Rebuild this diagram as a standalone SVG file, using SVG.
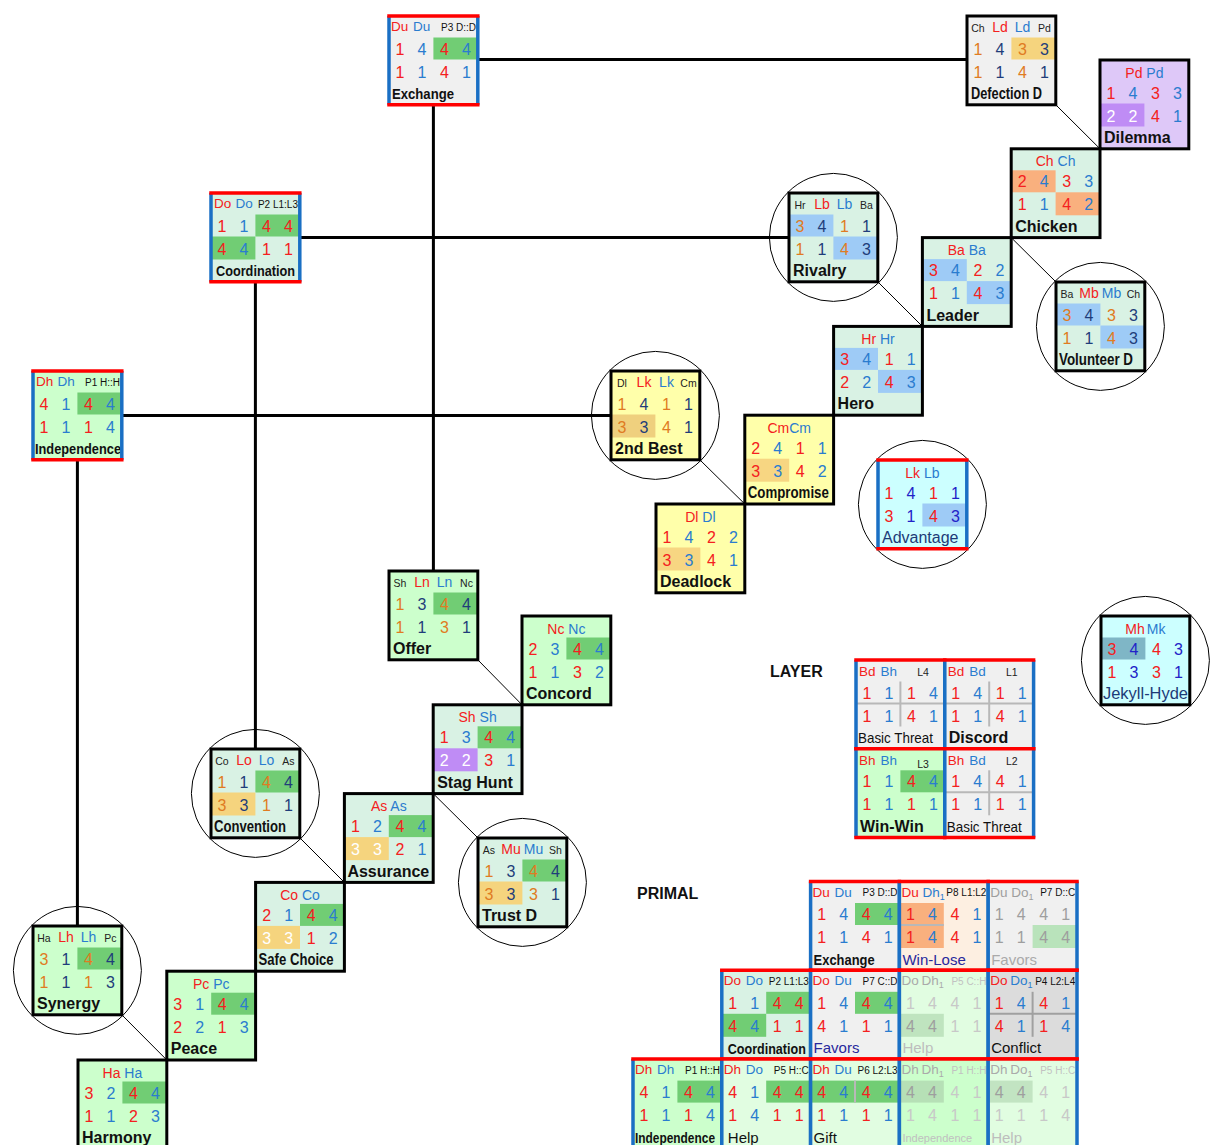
<svg xmlns="http://www.w3.org/2000/svg" width="1210" height="1145" viewBox="0 0 1210 1145">
<defs>
<style>
text{font-family:"Liberation Sans",Arial,Helvetica,sans-serif}
.v{font-size:16px;text-anchor:middle}
.m{text-anchor:middle}
.h{font-size:13.5px}
.hc{font-size:14px;text-anchor:middle}
.f14{font-size:14px}
.s{font-size:10.5px;fill:#222}
.p{font-size:10px;text-anchor:end;fill:#111}
.l{font-size:16px;font-weight:bold;fill:#111}
.lp{font-size:14px;font-weight:bold;fill:#111}
.ln{font-size:15px}
.R{fill:#f42020}.B{fill:#2a7ccf}.O{fill:#e07b22}.N{fill:#1f3d7a}.W{fill:#fff}.G{fill:#9e9e9e}.G2{fill:#c8c8c8}.D{fill:#2222c8}.NV{fill:#1d3b78}.DB{fill:#28289c}
.fr{fill:none;stroke:#000;stroke-width:3}
.bl{stroke:#1a6fc4;stroke-width:3.5}
.rd{stroke:#ff0000;stroke-width:3.5}
.dv{stroke:#b8b8b8;stroke-width:2}
.dvd{stroke:#a0a0a0;stroke-width:2}
.thick{stroke:#000;stroke-width:3;fill:none}
.thin{stroke:#000;stroke-width:1;fill:none}
.ring{fill:none;stroke:#000;stroke-width:1}
.title{font-size:16px;font-weight:bold;fill:#111}
</style>
<rect id="fr" class="fr" width="88.8" height="88.8"/>
<g id="pb"><line class="bl" x1="0" y1="0" x2="0" y2="88.8"/><line class="bl" x1="88.8" y1="0" x2="88.8" y2="88.8"/><line class="rd" x1="-1.75" y1="0" x2="90.55" y2="0"/><line class="rd" x1="-1.75" y1="88.8" x2="90.55" y2="88.8"/></g>
<rect id="bg" width="88.8" height="88.8"/>
<rect id="a1" y="21.5" width="44.4" height="22"/>
<rect id="b1" x="44.4" y="21.5" width="44.4" height="22"/>
<rect id="a2" y="43.5" width="44.4" height="23"/>
<rect id="b2" x="44.4" y="43.5" width="44.4" height="23"/>
<g id="dv"><line class="dv" x1="0" y1="43.5" x2="88.8" y2="43.5"/><line class="dv" x1="44.4" y1="21.5" x2="44.4" y2="66.5"/></g>
</defs>
<rect width="1210" height="1145" fill="#fff"/>

<g id="connectors">
<line class="thick" x1="477.8" y1="59.5" x2="967" y2="59.5"/>
<line class="thick" x1="433.4" y1="104.8" x2="433.4" y2="571"/>
<line class="thick" x1="299.8" y1="237.5" x2="789" y2="237.5"/>
<line class="thick" x1="255.4" y1="281.8" x2="255.4" y2="749"/>
<line class="thick" x1="121.8" y1="415.4" x2="611" y2="415.4"/>
<line class="thick" x1="77.4" y1="459.8" x2="77.4" y2="926"/>
<line class="thin" x1="1055.8" y1="104.8" x2="1100" y2="148.8"/>
<line class="thin" x1="877.8" y1="281.8" x2="922.4" y2="326.4"/>
<line class="thin" x1="1056" y1="282" x2="1011.2" y2="237.6"/>
<line class="thin" x1="699.8" y1="459.8" x2="744.8" y2="504"/>
<line class="thin" x1="477.8" y1="659.8" x2="522" y2="704.8"/>
<line class="thin" x1="478" y1="838" x2="433.2" y2="793.6"/>
<line class="thin" x1="299.8" y1="837.8" x2="344.4" y2="882.4"/>
<line class="thin" x1="121.8" y1="1014.8" x2="166.8" y2="1060"/>
</g>

<g id="n-exchange" transform="translate(389,16)">
<use href="#bg" fill="#f0f0f0"/><use href="#b1" fill="#71cd74"/>
<text class="h" y="15"><tspan x="2" class="R">Du</tspan><tspan x="24" class="B">Du</tspan></text>
<text class="p" x="87" y="14.5">P3 D::D</text>
<text class="v" y="38.5"><tspan x="11" class="R">1</tspan><tspan x="33" class="B">4</tspan><tspan x="55.5" class="R">4</tspan><tspan x="77.5" class="B">4</tspan></text>
<text class="v" y="61.5"><tspan x="11" class="R">1</tspan><tspan x="33" class="B">1</tspan><tspan x="55.5" class="R">4</tspan><tspan x="77.5" class="B">1</tspan></text>
<text class="lp" x="3" y="83" textLength="62" lengthAdjust="spacingAndGlyphs">Exchange</text>
<use href="#pb"/>
</g>

<g id="n-defection-d" transform="translate(967,16)">
<use href="#bg" fill="#f0f0f0"/><use href="#b1" fill="#f5d47e"/>
<text class="m" y="15.5"><tspan x="11" class="s">Ch</tspan><tspan x="33" class="f14 R">Ld</tspan><tspan x="55.5" class="f14 B">Ld</tspan><tspan x="77.5" class="s">Pd</tspan></text>
<text class="v" y="38.5"><tspan x="11" class="O">1</tspan><tspan x="33" class="N">4</tspan><tspan x="55.5" class="O">3</tspan><tspan x="77.5" class="N">3</tspan></text>
<text class="v" y="61.5"><tspan x="11" class="O">1</tspan><tspan x="33" class="N">1</tspan><tspan x="55.5" class="O">4</tspan><tspan x="77.5" class="N">1</tspan></text>
<text class="l" x="4" y="83" textLength="71" lengthAdjust="spacingAndGlyphs">Defection D</text>
<use href="#fr"/>
</g>

<g id="n-dilemma" transform="translate(1100,60)">
<use href="#bg" fill="#dec8f8"/><use href="#a2" fill="#bf8cf5"/>
<text class="hc" x="44.4" y="17.5"><tspan class="R">Pd</tspan> <tspan class="B">Pd</tspan></text>
<text class="v" y="38.5"><tspan x="11" class="R">1</tspan><tspan x="33" class="B">4</tspan><tspan x="55.5" class="R">3</tspan><tspan x="77.5" class="B">3</tspan></text>
<text class="v" y="61.5"><tspan x="11" class="W">2</tspan><tspan x="33" class="W">2</tspan><tspan x="55.5" class="R">4</tspan><tspan x="77.5" class="B">1</tspan></text>
<text class="l" x="4" y="83">Dilemma</text>
<use href="#fr"/>
</g>

<g id="n-chicken" transform="translate(1011.2,148.8)">
<use href="#bg" fill="#d9f2e4"/><use href="#a1" fill="#f9b07e"/><use href="#b2" fill="#f9b07e"/>
<text class="hc" x="44.4" y="17.5"><tspan class="R">Ch</tspan> <tspan class="B">Ch</tspan></text>
<text class="v" y="38.5"><tspan x="11" class="R">2</tspan><tspan x="33" class="B">4</tspan><tspan x="55.5" class="R">3</tspan><tspan x="77.5" class="B">3</tspan></text>
<text class="v" y="61.5"><tspan x="11" class="R">1</tspan><tspan x="33" class="B">1</tspan><tspan x="55.5" class="R">4</tspan><tspan x="77.5" class="B">2</tspan></text>
<text class="l" x="4" y="83">Chicken</text>
<use href="#fr"/>
</g>

<g id="n-leader" transform="translate(922.4,237.6)">
<use href="#bg" fill="#d9f2e4"/><use href="#a1" fill="#9ecbf6"/><use href="#b2" fill="#9ecbf6"/>
<text class="hc" x="44.4" y="17.5"><tspan class="R">Ba</tspan> <tspan class="B">Ba</tspan></text>
<text class="v" y="38.5"><tspan x="11" class="R">3</tspan><tspan x="33" class="B">4</tspan><tspan x="55.5" class="R">2</tspan><tspan x="77.5" class="B">2</tspan></text>
<text class="v" y="61.5"><tspan x="11" class="R">1</tspan><tspan x="33" class="B">1</tspan><tspan x="55.5" class="R">4</tspan><tspan x="77.5" class="B">3</tspan></text>
<text class="l" x="4" y="83">Leader</text>
<use href="#fr"/>
</g>

<g id="n-hero" transform="translate(833.6,326.4)">
<use href="#bg" fill="#d9f2e4"/><use href="#a1" fill="#9ecbf6"/><use href="#b2" fill="#9ecbf6"/>
<text class="hc" x="44.4" y="17.5"><tspan class="R">Hr</tspan> <tspan class="B">Hr</tspan></text>
<text class="v" y="38.5"><tspan x="11" class="R">3</tspan><tspan x="33" class="B">4</tspan><tspan x="55.5" class="R">1</tspan><tspan x="77.5" class="B">1</tspan></text>
<text class="v" y="61.5"><tspan x="11" class="R">2</tspan><tspan x="33" class="B">2</tspan><tspan x="55.5" class="R">4</tspan><tspan x="77.5" class="B">3</tspan></text>
<text class="l" x="4" y="83">Hero</text>
<use href="#fr"/>
</g>

<g id="n-compromise" transform="translate(744.8,415.2)">
<use href="#bg" fill="#ffffaa"/><use href="#a2" fill="#f7d682"/>
<text class="hc" x="44.4" y="17.5"><tspan class="R">Cm</tspan><tspan class="B">Cm</tspan></text>
<text class="v" y="38.5"><tspan x="11" class="R">2</tspan><tspan x="33" class="B">4</tspan><tspan x="55.5" class="R">1</tspan><tspan x="77.5" class="B">1</tspan></text>
<text class="v" y="61.5"><tspan x="11" class="R">3</tspan><tspan x="33" class="B">3</tspan><tspan x="55.5" class="R">4</tspan><tspan x="77.5" class="B">2</tspan></text>
<text class="l" x="3" y="83" textLength="81" lengthAdjust="spacingAndGlyphs">Compromise</text>
<use href="#fr"/>
</g>

<g id="n-deadlock" transform="translate(656,504)">
<use href="#bg" fill="#ffffaa"/><use href="#a2" fill="#f7d682"/>
<text class="hc" x="44.4" y="17.5"><tspan class="R">Dl</tspan> <tspan class="B">Dl</tspan></text>
<text class="v" y="38.5"><tspan x="11" class="R">1</tspan><tspan x="33" class="B">4</tspan><tspan x="55.5" class="R">2</tspan><tspan x="77.5" class="B">2</tspan></text>
<text class="v" y="61.5"><tspan x="11" class="R">3</tspan><tspan x="33" class="B">3</tspan><tspan x="55.5" class="R">4</tspan><tspan x="77.5" class="B">1</tspan></text>
<text class="l" x="4" y="83">Deadlock</text>
<use href="#fr"/>
</g>

<g id="n-2nd-best" transform="translate(611,371)">
<circle class="ring" cx="44.4" cy="44.4" r="64"/>
<use href="#bg" fill="#ffffaa"/><use href="#a2" fill="#efd07e"/>
<text class="m" y="15.5"><tspan x="11" class="s">Dl</tspan><tspan x="33" class="f14 R">Lk</tspan><tspan x="55.5" class="f14 B">Lk</tspan><tspan x="77.5" class="s">Cm</tspan></text>
<text class="v" y="38.5"><tspan x="11" class="O">1</tspan><tspan x="33" class="N">4</tspan><tspan x="55.5" class="O">1</tspan><tspan x="77.5" class="N">1</tspan></text>
<text class="v" y="61.5"><tspan x="11" class="O">3</tspan><tspan x="33" class="N">3</tspan><tspan x="55.5" class="O">4</tspan><tspan x="77.5" class="N">1</tspan></text>
<text class="l" x="4" y="83">2nd Best</text>
<use href="#fr"/>
</g>

<g id="n-advantage" transform="translate(878,460)">
<circle class="ring" cx="44.4" cy="44.4" r="64"/>
<use href="#bg" fill="#ccffff"/><use href="#b2" fill="#9ecbf6"/>
<text class="hc" x="44.4" y="17.5"><tspan class="R">Lk</tspan> <tspan class="B">Lb</tspan></text>
<text class="v" y="38.5"><tspan x="11" class="R">1</tspan><tspan x="33" class="D">4</tspan><tspan x="55.5" class="R">1</tspan><tspan x="77.5" class="D">1</tspan></text>
<text class="v" y="61.5"><tspan x="11" class="R">3</tspan><tspan x="33" class="D">1</tspan><tspan x="55.5" class="R">4</tspan><tspan x="77.5" class="D">3</tspan></text>
<text class="NV" font-size="16" x="4" y="83">Advantage</text>
<use href="#pb"/>
</g>

<g id="n-rivalry" transform="translate(789,193)">
<circle class="ring" cx="44.4" cy="44.4" r="64"/>
<use href="#bg" fill="#d9f2e4"/><use href="#a1" fill="#9ecbf6"/><use href="#b2" fill="#9ecbf6"/>
<text class="m" y="15.5"><tspan x="11" class="s">Hr</tspan><tspan x="33" class="f14 R">Lb</tspan><tspan x="55.5" class="f14 B">Lb</tspan><tspan x="77.5" class="s">Ba</tspan></text>
<text class="v" y="38.5"><tspan x="11" class="O">3</tspan><tspan x="33" class="N">4</tspan><tspan x="55.5" class="O">1</tspan><tspan x="77.5" class="N">1</tspan></text>
<text class="v" y="61.5"><tspan x="11" class="O">1</tspan><tspan x="33" class="N">1</tspan><tspan x="55.5" class="O">4</tspan><tspan x="77.5" class="N">3</tspan></text>
<text class="l" x="4" y="83">Rivalry</text>
<use href="#fr"/>
</g>

<g id="n-volunteer-d" transform="translate(1056,282)">
<circle class="ring" cx="44.4" cy="44.4" r="64"/>
<use href="#bg" fill="#d9f2e4"/><use href="#a1" fill="#9ecbf6"/><use href="#b2" fill="#9ecbf6"/>
<text class="m" y="15.5"><tspan x="11" class="s">Ba</tspan><tspan x="33" class="f14 R">Mb</tspan><tspan x="55.5" class="f14 B">Mb</tspan><tspan x="77.5" class="s">Ch</tspan></text>
<text class="v" y="38.5"><tspan x="11" class="O">3</tspan><tspan x="33" class="N">4</tspan><tspan x="55.5" class="O">3</tspan><tspan x="77.5" class="N">3</tspan></text>
<text class="v" y="61.5"><tspan x="11" class="O">1</tspan><tspan x="33" class="N">1</tspan><tspan x="55.5" class="O">4</tspan><tspan x="77.5" class="N">3</tspan></text>
<text class="l" x="3" y="83" textLength="74" lengthAdjust="spacingAndGlyphs">Volunteer D</text>
<use href="#fr"/>
</g>

<g id="n-jekyll-hyde" transform="translate(1101,616)">
<circle class="ring" cx="44.4" cy="44.4" r="64"/>
<use href="#bg" fill="#ccffff"/><use href="#a1" fill="#7fb6c6"/>
<text class="hc" x="44.4" y="17.5"><tspan class="R">Mh</tspan><tspan class="B" dx="2">Mk</tspan></text>
<text class="v" y="38.5"><tspan x="11" class="R">3</tspan><tspan x="33" class="D">4</tspan><tspan x="55.5" class="R">4</tspan><tspan x="77.5" class="D">3</tspan></text>
<text class="v" y="61.5"><tspan x="11" class="R">1</tspan><tspan x="33" class="D">3</tspan><tspan x="55.5" class="R">3</tspan><tspan x="77.5" class="D">1</tspan></text>
<text class="NV" font-size="16" x="2" y="83" textLength="85" lengthAdjust="spacingAndGlyphs">Jekyll-Hyde</text>
<use href="#fr"/>
</g>

<g id="n-coordination" transform="translate(211,193)">
<use href="#bg" fill="#d9f2e4"/><use href="#b1" fill="#71cd74"/><use href="#a2" fill="#71cd74"/>
<text class="h" y="15"><tspan x="3" class="R">Do</tspan><tspan x="24.5" class="B">Do</tspan></text>
<text class="p" x="87" y="14.5">P2 L1:L3</text>
<text class="v" y="38.5"><tspan x="11" class="R">1</tspan><tspan x="33" class="B">1</tspan><tspan x="55.5" class="R">4</tspan><tspan x="77.5" class="R">4</tspan></text>
<text class="v" y="61.5"><tspan x="11" class="R">4</tspan><tspan x="33" class="B">4</tspan><tspan x="55.5" class="R">1</tspan><tspan x="77.5" class="R">1</tspan></text>
<text class="lp" x="5" y="83" textLength="79" lengthAdjust="spacingAndGlyphs">Coordination</text>
<use href="#pb"/>
</g>

<g id="n-independence" transform="translate(33,371)">
<use href="#bg" fill="#ccffcc"/><use href="#b1" fill="#71cd74"/>
<text class="h" y="15"><tspan x="3" class="R">Dh</tspan><tspan x="24.5" class="B">Dh</tspan></text>
<text class="p" x="87" y="14.5">P1 H::H</text>
<text class="v" y="38.5"><tspan x="11" class="R">4</tspan><tspan x="33" class="B">1</tspan><tspan x="55.5" class="R">4</tspan><tspan x="77.5" class="B">4</tspan></text>
<text class="v" y="61.5"><tspan x="11" class="R">1</tspan><tspan x="33" class="B">1</tspan><tspan x="55.5" class="R">1</tspan><tspan x="77.5" class="B">4</tspan></text>
<text class="lp" x="2" y="83" textLength="86" lengthAdjust="spacingAndGlyphs">Independence</text>
<use href="#pb"/>
</g>

<g id="n-offer" transform="translate(389,571)">
<use href="#bg" fill="#ccffcc"/><use href="#b1" fill="#71cd74"/>
<text class="m" y="15.5"><tspan x="11" class="s">Sh</tspan><tspan x="33" class="f14 R">Ln</tspan><tspan x="55.5" class="f14 B">Ln</tspan><tspan x="77.5" class="s">Nc</tspan></text>
<text class="v" y="38.5"><tspan x="11" class="O">1</tspan><tspan x="33" class="N">3</tspan><tspan x="55.5" class="O">4</tspan><tspan x="77.5" class="N">4</tspan></text>
<text class="v" y="61.5"><tspan x="11" class="O">1</tspan><tspan x="33" class="N">1</tspan><tspan x="55.5" class="O">3</tspan><tspan x="77.5" class="N">1</tspan></text>
<text class="l" x="4" y="83">Offer</text>
<use href="#fr"/>
</g>

<g id="n-concord" transform="translate(522,616)">
<use href="#bg" fill="#ccffcc"/><use href="#b1" fill="#71cd74"/>
<text class="hc" x="44.4" y="17.5"><tspan class="R">Nc</tspan> <tspan class="B">Nc</tspan></text>
<text class="v" y="38.5"><tspan x="11" class="R">2</tspan><tspan x="33" class="B">3</tspan><tspan x="55.5" class="R">4</tspan><tspan x="77.5" class="B">4</tspan></text>
<text class="v" y="61.5"><tspan x="11" class="R">1</tspan><tspan x="33" class="B">1</tspan><tspan x="55.5" class="R">3</tspan><tspan x="77.5" class="B">2</tspan></text>
<text class="l" x="4" y="83">Concord</text>
<use href="#fr"/>
</g>

<g id="n-stag-hunt" transform="translate(433.2,704.8)">
<use href="#bg" fill="#d9f2e4"/><use href="#b1" fill="#71cd74"/><use href="#a2" fill="#bf8cf5"/>
<text class="hc" x="44.4" y="17.5"><tspan class="R">Sh</tspan> <tspan class="B">Sh</tspan></text>
<text class="v" y="38.5"><tspan x="11" class="R">1</tspan><tspan x="33" class="B">3</tspan><tspan x="55.5" class="R">4</tspan><tspan x="77.5" class="B">4</tspan></text>
<text class="v" y="61.5"><tspan x="11" class="W">2</tspan><tspan x="33" class="W">2</tspan><tspan x="55.5" class="R">3</tspan><tspan x="77.5" class="B">1</tspan></text>
<text class="l" x="4" y="83">Stag Hunt</text>
<use href="#fr"/>
</g>

<g id="n-assurance" transform="translate(344.4,793.6)">
<use href="#bg" fill="#d9f2e4"/><use href="#b1" fill="#71cd74"/><use href="#a2" fill="#f5d47e"/>
<text class="hc" x="44.4" y="17.5"><tspan class="R">As</tspan> <tspan class="B">As</tspan></text>
<text class="v" y="38.5"><tspan x="11" class="R">1</tspan><tspan x="33" class="B">2</tspan><tspan x="55.5" class="R">4</tspan><tspan x="77.5" class="B">4</tspan></text>
<text class="v" y="61.5"><tspan x="11" class="W">3</tspan><tspan x="33" class="W">3</tspan><tspan x="55.5" class="R">2</tspan><tspan x="77.5" class="B">1</tspan></text>
<text class="l" x="3" y="83">Assurance</text>
<use href="#fr"/>
</g>

<g id="n-convention" transform="translate(211,749)">
<circle class="ring" cx="44.4" cy="44.4" r="64"/>
<use href="#bg" fill="#d9f2e4"/><use href="#b1" fill="#71cd74"/><use href="#a2" fill="#f5d47e"/>
<text class="m" y="15.5"><tspan x="11" class="s">Co</tspan><tspan x="33" class="f14 R">Lo</tspan><tspan x="55.5" class="f14 B">Lo</tspan><tspan x="77.5" class="s">As</tspan></text>
<text class="v" y="38.5"><tspan x="11" class="O">1</tspan><tspan x="33" class="N">1</tspan><tspan x="55.5" class="O">4</tspan><tspan x="77.5" class="N">4</tspan></text>
<text class="v" y="61.5"><tspan x="11" class="O">3</tspan><tspan x="33" class="N">3</tspan><tspan x="55.5" class="O">1</tspan><tspan x="77.5" class="N">1</tspan></text>
<text class="l" x="3" y="83" textLength="72" lengthAdjust="spacingAndGlyphs">Convention</text>
<use href="#fr"/>
</g>

<g id="n-trust-d" transform="translate(478,838)">
<circle class="ring" cx="44.4" cy="44.4" r="64"/>
<use href="#bg" fill="#d9f2e4"/><use href="#b1" fill="#71cd74"/><use href="#a2" fill="#f5d47e"/>
<text class="m" y="15.5"><tspan x="11" class="s">As</tspan><tspan x="33" class="f14 R">Mu</tspan><tspan x="55.5" class="f14 B">Mu</tspan><tspan x="77.5" class="s">Sh</tspan></text>
<text class="v" y="38.5"><tspan x="11" class="O">1</tspan><tspan x="33" class="N">3</tspan><tspan x="55.5" class="O">4</tspan><tspan x="77.5" class="N">4</tspan></text>
<text class="v" y="61.5"><tspan x="11" class="O">3</tspan><tspan x="33" class="N">3</tspan><tspan x="55.5" class="O">3</tspan><tspan x="77.5" class="N">1</tspan></text>
<text class="l" x="4" y="83">Trust D</text>
<use href="#fr"/>
</g>

<g id="n-safe-choice" transform="translate(255.6,882.4)">
<use href="#bg" fill="#d9f2e4"/><use href="#b1" fill="#71cd74"/><use href="#a2" fill="#f5d47e"/>
<text class="hc" x="44.4" y="17.5"><tspan class="R">Co</tspan> <tspan class="B">Co</tspan></text>
<text class="v" y="38.5"><tspan x="11" class="R">2</tspan><tspan x="33" class="B">1</tspan><tspan x="55.5" class="R">4</tspan><tspan x="77.5" class="B">4</tspan></text>
<text class="v" y="61.5"><tspan x="11" class="W">3</tspan><tspan x="33" class="W">3</tspan><tspan x="55.5" class="R">1</tspan><tspan x="77.5" class="B">2</tspan></text>
<text class="l" x="3" y="83" textLength="75" lengthAdjust="spacingAndGlyphs">Safe Choice</text>
<use href="#fr"/>
</g>

<g id="n-synergy" transform="translate(33,926)">
<circle class="ring" cx="44.4" cy="44.4" r="64"/>
<use href="#bg" fill="#ccffcc"/><use href="#b1" fill="#71cd74"/>
<text class="m" y="15.5"><tspan x="11" class="s">Ha</tspan><tspan x="33" class="f14 R">Lh</tspan><tspan x="55.5" class="f14 B">Lh</tspan><tspan x="77.5" class="s">Pc</tspan></text>
<text class="v" y="38.5"><tspan x="11" class="O">3</tspan><tspan x="33" class="N">1</tspan><tspan x="55.5" class="O">4</tspan><tspan x="77.5" class="N">4</tspan></text>
<text class="v" y="61.5"><tspan x="11" class="O">1</tspan><tspan x="33" class="N">1</tspan><tspan x="55.5" class="O">1</tspan><tspan x="77.5" class="N">3</tspan></text>
<text class="l" x="4" y="83">Synergy</text>
<use href="#fr"/>
</g>

<g id="n-peace" transform="translate(166.8,971.2)">
<use href="#bg" fill="#ccffcc"/><use href="#b1" fill="#71cd74"/>
<text class="hc" x="44.4" y="17.5"><tspan class="R">Pc</tspan> <tspan class="B">Pc</tspan></text>
<text class="v" y="38.5"><tspan x="11" class="R">3</tspan><tspan x="33" class="B">1</tspan><tspan x="55.5" class="R">4</tspan><tspan x="77.5" class="B">4</tspan></text>
<text class="v" y="61.5"><tspan x="11" class="R">2</tspan><tspan x="33" class="B">2</tspan><tspan x="55.5" class="R">1</tspan><tspan x="77.5" class="B">3</tspan></text>
<text class="l" x="4" y="83">Peace</text>
<use href="#fr"/>
</g>

<g id="n-harmony" transform="translate(78,1060)">
<use href="#bg" fill="#ccffcc"/><use href="#b1" fill="#71cd74"/>
<text class="hc" x="44.4" y="17.5"><tspan class="R">Ha</tspan> <tspan class="B">Ha</tspan></text>
<text class="v" y="38.5"><tspan x="11" class="R">3</tspan><tspan x="33" class="B">2</tspan><tspan x="55.5" class="R">4</tspan><tspan x="77.5" class="B">4</tspan></text>
<text class="v" y="61.5"><tspan x="11" class="R">1</tspan><tspan x="33" class="B">1</tspan><tspan x="55.5" class="R">2</tspan><tspan x="77.5" class="B">3</tspan></text>
<text class="l" x="4" y="83">Harmony</text>
<use href="#fr"/>
</g>

<text class="title" x="770" y="677">LAYER</text>

<g id="n-layer-basic-threat-l4" transform="translate(856,660)">
<use href="#bg" fill="#f0f0f0"/><use href="#dv"/>
<text class="h" y="16"><tspan x="3" class="R">Bd</tspan><tspan x="24.5" class="B">Bh</tspan></text>
<text class="s m" x="67" y="16">L4</text>
<text class="v" y="38.5"><tspan x="11" class="R">1</tspan><tspan x="33" class="B">1</tspan><tspan x="55.5" class="R">1</tspan><tspan x="77.5" class="B">4</tspan></text>
<text class="v" y="61.5"><tspan x="11" class="R">1</tspan><tspan x="33" class="B">1</tspan><tspan x="55.5" class="R">4</tspan><tspan x="77.5" class="B">1</tspan></text>
<text class="ln" fill="#111" x="2" y="83" textLength="75" lengthAdjust="spacingAndGlyphs">Basic Threat</text>
<use href="#pb"/>
</g>

<g id="n-layer-discord" transform="translate(944.8,660)">
<use href="#bg" fill="#f0f0f0"/><use href="#dv"/>
<text class="h" y="16"><tspan x="3" class="R">Bd</tspan><tspan x="24.5" class="B">Bd</tspan></text>
<text class="s m" x="67" y="16">L1</text>
<text class="v" y="38.5"><tspan x="11" class="R">1</tspan><tspan x="33" class="B">4</tspan><tspan x="55.5" class="R">1</tspan><tspan x="77.5" class="B">1</tspan></text>
<text class="v" y="61.5"><tspan x="11" class="R">1</tspan><tspan x="33" class="B">1</tspan><tspan x="55.5" class="R">4</tspan><tspan x="77.5" class="B">1</tspan></text>
<text class="l" x="4" y="83">Discord</text>
<use href="#pb"/>
</g>

<g id="n-layer-win-win" transform="translate(856,748.8)">
<use href="#bg" fill="#ccffcc"/><use href="#b1" fill="#71cd74"/>
<text class="h" y="16"><tspan x="3" class="R">Bh</tspan><tspan x="24.5" class="B">Bh</tspan></text>
<text class="s m" x="67" y="19">L3</text>
<text class="v" y="38.5"><tspan x="11" class="R">1</tspan><tspan x="33" class="B">1</tspan><tspan x="55.5" class="R">4</tspan><tspan x="77.5" class="B">4</tspan></text>
<text class="v" y="61.5"><tspan x="11" class="R">1</tspan><tspan x="33" class="B">1</tspan><tspan x="55.5" class="R">1</tspan><tspan x="77.5" class="B">1</tspan></text>
<text class="l" x="4" y="83">Win-Win</text>
<use href="#pb"/>
</g>

<g id="n-layer-basic-threat-l2" transform="translate(944.8,748.8)">
<use href="#bg" fill="#f0f0f0"/><use href="#dv"/>
<text class="h" y="16"><tspan x="3" class="R">Bh</tspan><tspan x="24.5" class="B">Bd</tspan></text>
<text class="s m" x="67" y="16">L2</text>
<text class="v" y="38.5"><tspan x="11" class="R">1</tspan><tspan x="33" class="B">4</tspan><tspan x="55.5" class="R">4</tspan><tspan x="77.5" class="B">1</tspan></text>
<text class="v" y="61.5"><tspan x="11" class="R">1</tspan><tspan x="33" class="B">1</tspan><tspan x="55.5" class="R">1</tspan><tspan x="77.5" class="B">1</tspan></text>
<text class="ln" fill="#111" x="2" y="83" textLength="75" lengthAdjust="spacingAndGlyphs">Basic Threat</text>
<use href="#pb"/>
</g>

<text class="title" x="637" y="899">PRIMAL</text>

<g id="n-primal-exchange" transform="translate(810.6,881.5)">
<use href="#bg" fill="#f0f0f0"/><use href="#b1" fill="#71cd74"/>
<text class="h" y="15"><tspan x="2" class="R">Du</tspan><tspan x="24" class="B">Du</tspan></text>
<text class="p" x="87" y="14.5">P3 D::D</text>
<text class="v" y="38.5"><tspan x="11" class="R">1</tspan><tspan x="33" class="B">4</tspan><tspan x="55.5" class="R">4</tspan><tspan x="77.5" class="B">4</tspan></text>
<text class="v" y="61.5"><tspan x="11" class="R">1</tspan><tspan x="33" class="B">1</tspan><tspan x="55.5" class="R">4</tspan><tspan x="77.5" class="B">1</tspan></text>
<text class="lp" x="3" y="83" textLength="61" lengthAdjust="spacingAndGlyphs">Exchange</text>
<use href="#pb"/>
</g>

<g id="n-primal-win-lose" transform="translate(899.4,881.5)">
<use href="#bg" fill="#fdefe1"/><use href="#a1" fill="#f9b07e"/><use href="#a2" fill="#f9b07e"/>
<line class="dv" x1="0" y1="43.5" x2="44.4" y2="43.5"/>
<text class="h" y="15"><tspan x="2" class="R">Du</tspan><tspan x="23" class="B">Dh<tspan font-size="9" dy="3">1</tspan></tspan></text>
<text class="p" x="87" y="14.5">P8 L1:L2</text>
<text class="v" y="38.5"><tspan x="11" class="R">1</tspan><tspan x="33" class="B">4</tspan><tspan x="55.5" class="R">4</tspan><tspan x="77.5" class="B">1</tspan></text>
<text class="v" y="61.5"><tspan x="11" class="R">1</tspan><tspan x="33" class="B">4</tspan><tspan x="55.5" class="R">4</tspan><tspan x="77.5" class="B">1</tspan></text>
<text class="ln DB" x="3" y="83">Win-Lose</text>
<use href="#pb"/>
</g>

<g id="n-primal-favors-grey" transform="translate(988.2,881.5)">
<use href="#bg" fill="#f0f0f0"/><use href="#b2" fill="#b9e3bb"/>
<text class="h G" y="15"><tspan x="2">Du</tspan><tspan x="23">Do<tspan font-size="9" dy="3">1</tspan></tspan></text>
<text class="p" x="87" y="14.5">P7 D::C</text>
<text class="v G" y="38.5"><tspan x="11">1</tspan><tspan x="33">4</tspan><tspan x="55.5">4</tspan><tspan x="77.5">1</tspan></text>
<text class="v G" y="61.5"><tspan x="11">1</tspan><tspan x="33">1</tspan><tspan x="55.5">4</tspan><tspan x="77.5">4</tspan></text>
<text class="ln" fill="#aaa" x="3" y="83">Favors</text>
<use href="#pb"/>
</g>

<g id="n-primal-coordination" transform="translate(721.8,970.3)">
<use href="#bg" fill="#d9f2e4"/><use href="#b1" fill="#71cd74"/><use href="#a2" fill="#71cd74"/>
<text class="h" y="15"><tspan x="2" class="R">Do</tspan><tspan x="24" class="B">Do</tspan></text>
<text class="p" x="87" y="14.5">P2 L1:L3</text>
<text class="v" y="38.5"><tspan x="11" class="R">1</tspan><tspan x="33" class="B">1</tspan><tspan x="55.5" class="R">4</tspan><tspan x="77.5" class="R">4</tspan></text>
<text class="v" y="61.5"><tspan x="11" class="R">4</tspan><tspan x="33" class="B">4</tspan><tspan x="55.5" class="R">1</tspan><tspan x="77.5" class="R">1</tspan></text>
<text class="lp" x="6" y="84" textLength="78" lengthAdjust="spacingAndGlyphs">Coordination</text>
<use href="#pb"/>
</g>

<g id="n-primal-favors" transform="translate(810.6,970.3)">
<use href="#bg" fill="#f0f0f0"/><use href="#b1" fill="#71cd74"/>
<text class="h" y="15"><tspan x="2" class="R">Do</tspan><tspan x="24" class="B">Du</tspan></text>
<text class="p" x="87" y="14.5">P7 C::D</text>
<text class="v" y="38.5"><tspan x="11" class="R">1</tspan><tspan x="33" class="B">4</tspan><tspan x="55.5" class="R">4</tspan><tspan x="77.5" class="B">4</tspan></text>
<text class="v" y="61.5"><tspan x="11" class="R">4</tspan><tspan x="33" class="B">1</tspan><tspan x="55.5" class="R">1</tspan><tspan x="77.5" class="B">1</tspan></text>
<text class="ln DB" x="3" y="83">Favors</text>
<use href="#pb"/>
</g>

<g id="n-primal-help-grey" transform="translate(899.4,970.3)">
<use href="#bg" fill="#e1fde1"/><use href="#a2" fill="#bfe4bf"/>
<text class="h" fill="#aaa" y="15"><tspan x="2">Do</tspan><tspan x="22">Dh<tspan font-size="9" dy="3">1</tspan></tspan></text>
<text class="p" style="fill:#c2c2c2" x="87" y="14.5">P5 C::H</text>
<text class="v G2" y="38.5"><tspan x="11">1</tspan><tspan x="33">4</tspan><tspan x="55.5">4</tspan><tspan x="77.5">1</tspan></text>
<text class="v G2" y="61.5"><tspan x="11" class="G">4</tspan><tspan x="33" class="G">4</tspan><tspan x="55.5">1</tspan><tspan x="77.5">1</tspan></text>
<text class="ln" fill="#bdbdbd" x="3" y="83">Help</text>
<use href="#pb"/>
</g>

<g id="n-primal-conflict" transform="translate(988.2,970.3)">
<use href="#bg" fill="#dcdcdc"/>
<line class="dvd" x1="0" y1="43.5" x2="88.8" y2="43.5"/><line class="dvd" x1="44.4" y1="21.5" x2="44.4" y2="66.5"/>
<text class="h" y="15"><tspan x="2" class="R">Do</tspan><tspan x="22" class="B">Do<tspan font-size="9" dy="3">1</tspan></tspan></text>
<text class="p" x="87" y="14.5">P4 L2:L4</text>
<text class="v" y="38.5"><tspan x="11" class="R">1</tspan><tspan x="33" class="B">4</tspan><tspan x="55.5" class="R">4</tspan><tspan x="77.5" class="B">1</tspan></text>
<text class="v" y="61.5"><tspan x="11" class="R">4</tspan><tspan x="33" class="B">1</tspan><tspan x="55.5" class="R">1</tspan><tspan x="77.5" class="B">4</tspan></text>
<text class="ln" fill="#111" x="3" y="83">Conflict</text>
<use href="#pb"/>
</g>

<g id="n-primal-independence" transform="translate(633,1059.1)">
<use href="#bg" fill="#ccffcc"/><use href="#b1" fill="#71cd74"/>
<text class="h" y="15"><tspan x="2" class="R">Dh</tspan><tspan x="24" class="B">Dh</tspan></text>
<text class="p" x="87" y="14.5">P1 H::H</text>
<text class="v" y="38.5"><tspan x="11" class="R">4</tspan><tspan x="33" class="B">1</tspan><tspan x="55.5" class="R">4</tspan><tspan x="77.5" class="B">4</tspan></text>
<text class="v" y="61.5"><tspan x="11" class="R">1</tspan><tspan x="33" class="B">1</tspan><tspan x="55.5" class="R">1</tspan><tspan x="77.5" class="B">4</tspan></text>
<text class="lp" x="2" y="84" textLength="80" lengthAdjust="spacingAndGlyphs">Independence</text>
<use href="#pb"/>
</g>

<g id="n-primal-help" transform="translate(721.8,1059.1)">
<use href="#bg" fill="#e1fde1"/><use href="#b1" fill="#71cd74"/>
<text class="h" y="15"><tspan x="2" class="R">Dh</tspan><tspan x="24" class="B">Do</tspan></text>
<text class="p" x="87" y="14.5">P5 H::C</text>
<text class="v" y="38.5"><tspan x="11" class="R">4</tspan><tspan x="33" class="B">1</tspan><tspan x="55.5" class="R">4</tspan><tspan x="77.5" class="R">4</tspan></text>
<text class="v" y="61.5"><tspan x="11" class="R">1</tspan><tspan x="33" class="B">4</tspan><tspan x="55.5" class="R">1</tspan><tspan x="77.5" class="R">1</tspan></text>
<text class="ln" fill="#111" x="6" y="84">Help</text>
<use href="#pb"/>
</g>

<g id="n-primal-gift" transform="translate(810.6,1059.1)">
<use href="#bg" fill="#e1fde1"/><use href="#a1" fill="#71cd74"/><use href="#b1" fill="#71cd74"/>
<line class="dv" x1="44.4" y1="21.5" x2="44.4" y2="43.5"/>
<text class="h" y="15"><tspan x="2" class="R">Dh</tspan><tspan x="24" class="B">Du</tspan></text>
<text class="p" x="87" y="14.5">P6 L2:L3</text>
<text class="v" y="38.5"><tspan x="11" class="R">4</tspan><tspan x="33" class="B">4</tspan><tspan x="55.5" class="R">4</tspan><tspan x="77.5" class="B">4</tspan></text>
<text class="v" y="61.5"><tspan x="11" class="R">1</tspan><tspan x="33" class="B">1</tspan><tspan x="55.5" class="R">1</tspan><tspan x="77.5" class="B">1</tspan></text>
<text class="ln" fill="#111" x="3" y="84">Gift</text>
<use href="#pb"/>
</g>

<g id="n-primal-independence-grey" transform="translate(899.4,1059.1)">
<use href="#bg" fill="#ccffcc"/><use href="#a1" fill="#b6e0b6"/>
<text class="h" fill="#aaa" y="15"><tspan x="2">Dh</tspan><tspan x="22">Dh<tspan font-size="9" dy="3">1</tspan></tspan></text>
<text class="p" style="fill:#c2c2c2" x="87" y="14.5">P1 H::H</text>
<text class="v G2" y="38.5"><tspan x="11" class="G">4</tspan><tspan x="33" class="G">4</tspan><tspan x="55.5">4</tspan><tspan x="77.5">1</tspan></text>
<text class="v G2" y="61.5"><tspan x="11">1</tspan><tspan x="33">4</tspan><tspan x="55.5">1</tspan><tspan x="77.5">1</tspan></text>
<text fill="#c0c0c0" font-size="11" x="3" y="83">Independence</text>
<use href="#pb"/>
</g>

<g id="n-primal-help-grey-2" transform="translate(988.2,1059.1)">
<use href="#bg" fill="#e1fde1"/><use href="#a1" fill="#c2e4c2"/>
<text class="h" fill="#aaa" y="15"><tspan x="2">Dh</tspan><tspan x="22">Do<tspan font-size="9" dy="3">1</tspan></tspan></text>
<text class="p" style="fill:#c2c2c2" x="87" y="14.5">P5 H::C</text>
<text class="v G2" y="38.5"><tspan x="11" class="G">4</tspan><tspan x="33" class="G">4</tspan><tspan x="55.5">4</tspan><tspan x="77.5">1</tspan></text>
<text class="v G2" y="61.5"><tspan x="11">1</tspan><tspan x="33">1</tspan><tspan x="55.5">1</tspan><tspan x="77.5">4</tspan></text>
<text class="ln" fill="#bdbdbd" x="3" y="84">Help</text>
<use href="#pb"/>
</g>
</svg>
